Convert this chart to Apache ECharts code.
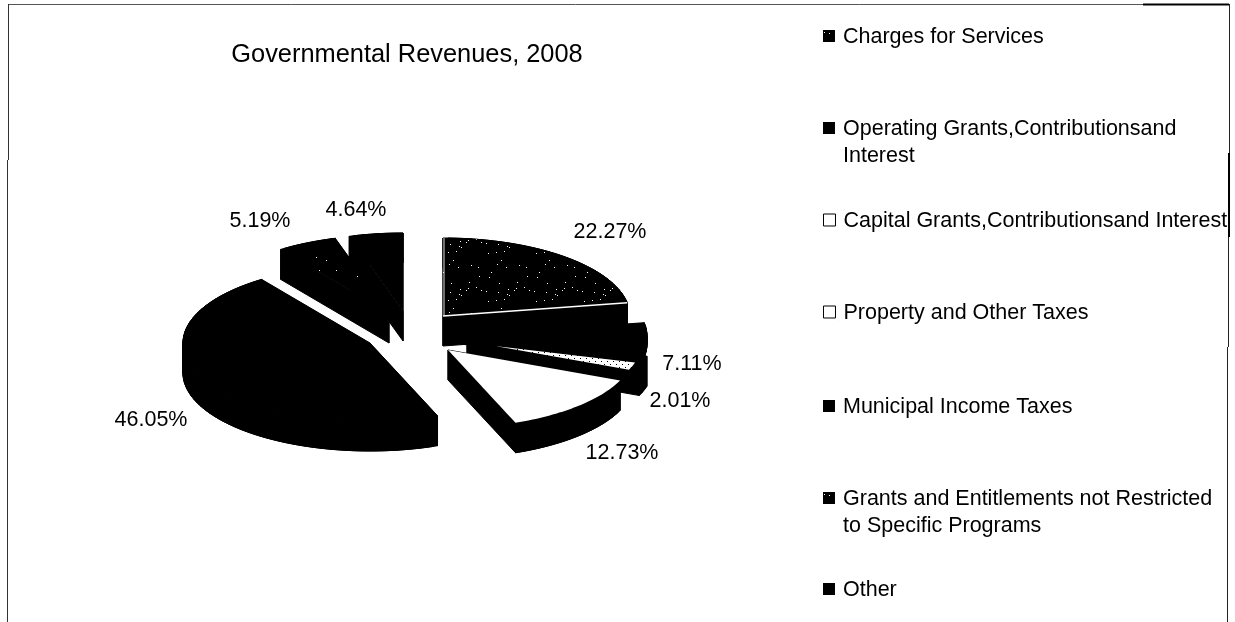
<!DOCTYPE html>
<html><head><meta charset="utf-8">
<style>html,body{margin:0;padding:0;background:#fff}#c{width:1235px;height:622px}</style>
<script src="https://cdn.jsdelivr.net/npm/echarts@6/dist/echarts.min.js"></script></head>
<body><div id="c"></div>
<script>
const categories = ["Charges for Services","Operating Grants,Contributionsand\nInterest","Capital Grants,Contributionsand Interest","Property and Other Taxes","Municipal Income Taxes","Grants and Entitlements not Restricted\nto Specific Programs","Other"];
const shares = [22.27,7.11,2.01,12.73,46.05,5.19,4.64];
const titleText = "Governmental Revenues, 2008";

// ---- layout only ----
const FONT = '"Liberation Sans", Arial, sans-serif';
const RX = 187, RY = 78;
const depths = [30,8,30,30,30,30,30];
const tips = [[443,316],[460,336],[467,335],[448,350],[370,343],[389,313],[403,311]];
const stack = [6,5,4,2,1,0,3].reduce((m,s,i)=>(m[s]=i,m),{});
const labelAt = [[610,232],[692,364],[680,401],[622,453],[151,420],[260,221],[356,210]];
const legendTop = [24,116,208,300,394,486,577];

function dots(n, seed){
  const c = document.createElement('canvas'); c.width = c.height = 48;
  const g = c.getContext('2d'); g.fillStyle='#000'; g.fillRect(0,0,48,48); g.fillStyle='#fff';
  let x = seed; // fixed stipple, purely a texture
  for(let i=0;i<n;i++){ x=(x*73+41)%2304; g.fillRect(x%48,(x/48)|0,1,1); }
  return c;
}
const stipple = {image:dots(22,7),repeat:'repeat'};
const sparse = {image:dots(5,11),repeat:'repeat'};
const lightDots = (()=>{const c=document.createElement('canvas');c.width=c.height=6;const g=c.getContext('2d');g.fillStyle='#fff';g.fillRect(0,0,6,6);g.fillStyle='#000';g.fillRect(1,1,1,1);g.fillRect(4,4,1,1);return {image:c,repeat:'repeat'};})();
const faces = [stipple,'#000','#000','#fff','#000',sparse,'#000'];

const startAngle = shares.map((_,i)=>shares.slice(0,i).reduce((a,b)=>a+b,0)/100*2*Math.PI);

function rim(tip,a0,a1,f){
  const pts=[]; const n=Math.max(4,Math.ceil((a1-a0)*40));
  for(let i=0;i<=n;i++){const a=a0+(a1-a0)*i/n; pts.push([tip[0]+f*RX*Math.sin(a),tip[1]-f*RY*Math.cos(a)]);}
  return pts;
}

function renderSlice(i){
  return function(params,api){
    const v = api.value(0), a0 = startAngle[i], a1 = a0 + v/100*2*Math.PI, t = tips[i], d = depths[i];
    const top = rim(t,a0,a1,1), ch=[], z=stack[i]*10;
    const down = p=>[p[0],p[1]+d];
    const wall = pts=>({type:'polygon',z2:z,shape:{points:pts},style:{fill:'#000',stroke:'#000',lineWidth:1}});
    for(let k=0;k<top.length-1;k++){ const e=Math.min(k+2,top.length-1); ch.push(wall([top[k],top[e],down(top[e]),down(top[k])])); }
    ch.push(wall([t,top[0],down(top[0]),down(t)]));
    ch.push(wall([t,top[top.length-1],down(top[top.length-1]),down(t)]));
    ch.push({type:'polygon',z2:z+1,shape:{points:[t].concat(top)},style:{fill:faces[i]}});
    if(i===0){
      ch.push({type:'polyline',z2:z+2,shape:{points:[t,top[top.length-1]]},style:{fill:null,stroke:'#fff',lineWidth:1.5}});
      ch.push({type:'polyline',z2:z+2,shape:{points:[[t[0]+1,t[1]],[top[0][0]+1,top[0][1]]]},style:{fill:null,stroke:'#ddd',lineWidth:1}});
    }
    if(i===2){ const s=[495,346]; ch.push({type:'polygon',z2:55,shape:{points:[s].concat(rim(s,a0,a1,0.778))},style:{fill:lightDots}}); }
    ch.push({type:'text',z2:90,style:{text:v.toFixed(2)+'%',x:labelAt[i][0],y:labelAt[i][1],align:'center',verticalAlign:'middle',font:'21.5px '+FONT,fill:'#000'}});
    return {type:'group',children:ch};
  };
}

const legendIcon = 'path://M0 0h12v12h-12z M15 15h.01v.01h-.01z';
const tallIcon = 'path://M0 0h12v12h-12z M15 42h.01v.01h-.01z';
const legendStyle = [
 {color:stipple,borderWidth:0},{color:'#000',borderWidth:0},
 {color:'#fff',borderColor:'#000',borderWidth:1},{color:'#fff',borderColor:'#000',borderWidth:1},
 {color:'#000',borderWidth:0},{color:stipple,borderWidth:0},{color:'#000',borderWidth:0}];

const option = {
  animation:false, backgroundColor:'#fff',
  title:{text:titleText,left:402,top:50,textAlign:'center',textVerticalAlign:'middle',textStyle:{fontFamily:FONT,fontSize:25.4,fontWeight:'normal',color:'#000'}},
  legend: categories.map((name,i)=>{
    const two = name.includes('\n');
    return {
      data:[{name,icon:two?tallIcon:legendIcon,itemStyle:legendStyle[i]}],
      left:823, top:legendTop[i], orient:'vertical', padding:0,
      itemWidth:15, itemHeight:two?42:15, itemGap:0, selectedMode:false,
      textStyle:{fontFamily:FONT,fontSize:21.5,color:'#000',lineHeight:27}
    };
  }),
  series: categories.map((name,i)=>({
    type:'custom', name, coordinateSystem:'none', silent:true, z:2,
    data:[[shares[i]]], renderItem:renderSlice(i)
  })),
  graphic:[
    {type:'line',shape:{x1:8,y1:4.5,x2:1143,y2:4.5},style:{stroke:'#555',lineWidth:1}},
    {type:'line',shape:{x1:1143,y1:4.5,x2:1229,y2:4.5},style:{stroke:'#000',lineWidth:2}},
    {type:'line',shape:{x1:8.5,y1:4,x2:8.5,y2:160},style:{stroke:'#333',lineWidth:1}},
    {type:'line',shape:{x1:7.5,y1:160,x2:7.5,y2:622},style:{stroke:'#333',lineWidth:1}},
    {type:'line',shape:{x1:1229.5,y1:4,x2:1229.5,y2:153},style:{stroke:'#222',lineWidth:1}},
    {type:'line',shape:{x1:1229,y1:153,x2:1229,y2:237},style:{stroke:'#000',lineWidth:2}},
    {type:'line',shape:{x1:1228.5,y1:237,x2:1228.5,y2:347},style:{stroke:'#222',lineWidth:1}},
    {type:'line',shape:{x1:1227.5,y1:347,x2:1227.5,y2:622},style:{stroke:'#222',lineWidth:1}}
  ]
};
echarts.init(document.getElementById('c'),null,{renderer:'canvas'}).setOption(option);
</script></body></html>
